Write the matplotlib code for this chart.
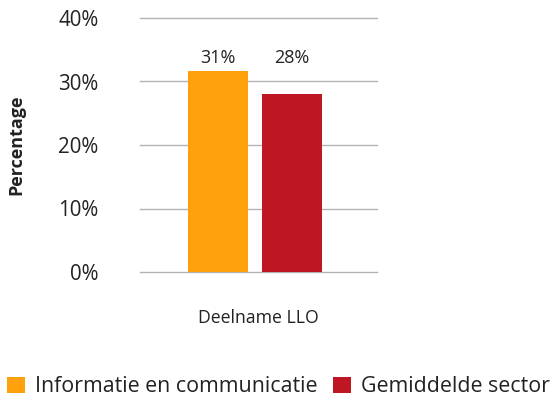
import matplotlib
matplotlib.use("Agg")
import matplotlib.pyplot as plt
from matplotlib.patches import Patch

plt.rcParams['font.family'] = ['Open Sans', 'DejaVu Sans']

category = ["Deelname LLO"]
series = ["Informatie en communicatie", "Gemiddelde sector"]
values = [31.6, 28.1]
labels = ["31%", "28%"]
colors = ["#FFA10D", "#BE1622"]
yticks = [0, 10, 20, 30, 40]
ytick_labels = ["0%", "10%", "20%", "30%", "40%"]

fig = plt.figure(figsize=(5.52, 4.0), dpi=100)
ax = fig.add_axes([140/552, 1-272/400, 237/552, 254/400])

width = 0.253
offsets = [-0.171, 0.141]
label_y = max(values) + 0.65
for v, lab, c, off in zip(values, labels, colors, offsets):
    ax.bar(off, v, width=width, color=c, zorder=3)
    ax.text(off, label_y, lab, ha='center', va='bottom', fontsize=13, color='#222222')

ax.set_xlim(-0.5, 0.5)
ax.set_ylim(0, 40)
ax.set_yticks(yticks)
ax.set_yticklabels(ytick_labels, fontsize=14.8, color='#222222')
ax.set_xticks([0])
ax.set_xticklabels(category, fontsize=12.7, color='#222222')
ax.tick_params(axis='y', length=0, pad=30)
ax.tick_params(axis='x', length=0, pad=26.5)
ax.grid(axis='y', color='#b3b3b3', linewidth=1, zorder=0)
for gl in ax.get_ygridlines():
    gl.set_clip_on(False)
for s in ax.spines.values():
    s.set_visible(False)
ax.set_ylabel("Percentage", fontsize=13, fontweight='bold', color='#222222', labelpad=0)
ax.yaxis.set_label_coords(-115/237, 0.5)

handles = [Patch(facecolor=c, edgecolor='none') for c in colors]
fig.legend(handles, series, loc='center', bbox_to_anchor=(278.5/552, 1-387/400), ncol=2,
           frameon=False, fontsize=15.4, handlelength=0.82, handleheight=0.82,
           handletextpad=0.47, columnspacing=0.75, labelcolor='#222222',
           borderpad=0, borderaxespad=0)

fig.savefig("out.png", dpi=100)
